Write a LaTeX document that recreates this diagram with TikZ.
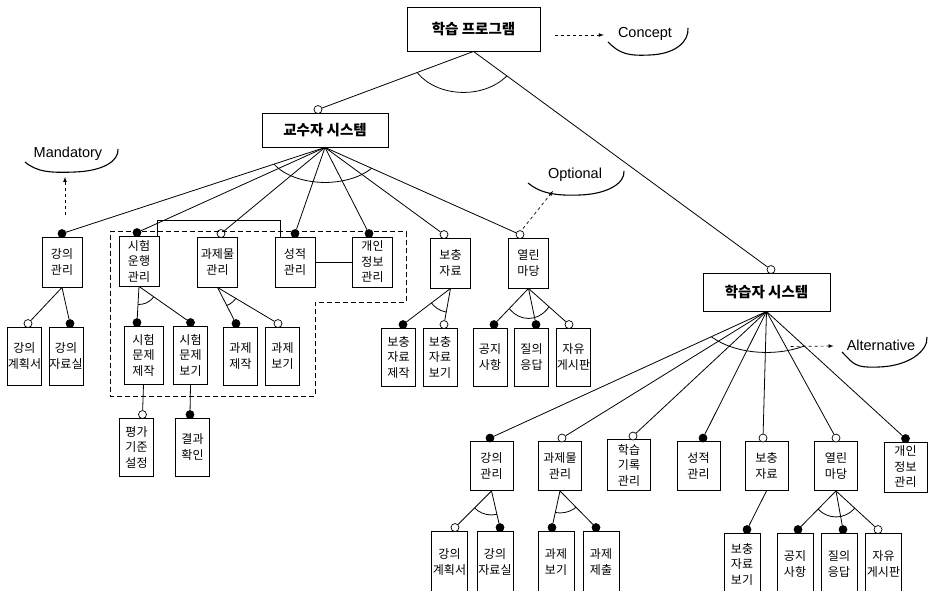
\documentclass[tikz,border=0pt]{standalone}
\usepackage{fontspec}
\setmainfont{Noto Sans CJK KR}
\newfontfamily\latinfont{Liberation Sans}
\usepackage{tikz}
\usetikzlibrary{calc}

\begin{document}
\begin{tikzpicture}[x=1pt, y=-1pt,
    featbox/.style={draw, line width=0.9pt, align=center, inner sep=0pt, font=\fontsize{12}{15.5}\selectfont},
    featitem/.style={featbox, minimum width=40pt, minimum height=50pt},
    featleaf/.style={featbox, minimum width=34pt, minimum height=58pt},
    studleaf/.style={featbox, minimum width=36pt, minimum height=62pt},
    rootbox/.style={draw, line width=0.9pt, font=\fontsize{14.5}{16}\selectfont\bfseries},
    mandc/.style={circle, draw, fill=black, inner sep=0pt, minimum size=8pt, line width=0.7pt},
    optc/.style={mandc, fill=white},
    link/.style={line width=0.8pt},
    legend/.style={font=\latinfont\fontsize{14.5}{16}\selectfont, inner sep=0pt},
    swoosh/.style={line width=1.1pt},
    dasharrow/.style={dashed, line width=0.7pt, -latex}]
                \useasboundingbox (0,0) rectangle (930,591);

                % top level
                \node[rootbox, minimum width=133pt, minimum height=44pt] (prog) at (473.5,29) {학습 프로그램};
                \node[rootbox, minimum width=126pt, minimum height=34pt] (prof) at (325,130) {교수자 시스템};
                \node[rootbox, minimum width=127pt, minimum height=38pt] (stud) at (766.5,292) {학습자 시스템};

                % professor side
                \node[featitem] (p1) at (62,262) {강의\\관리};
                \node[featitem] (p2) at (139,261) {시험\\운행\\관리};
                \node[featitem] (p3) at (217.5,262) {과제물\\관리};
                \node[featitem] (p4) at (295,262) {성적\\관리};
                \node[featitem] (p5) at (372.5,262) {개인\\정보\\관리};
                \node[featitem] (p6) at (450.5,263) {보충\\자료};
                \node[featitem] (p7) at (528.5,263) {열린\\마당};

                \node[featleaf] (p11) at (24.5,356) {강의\\계획서};
                \node[featleaf] (p12) at (66,356) {강의\\자료실};
                \node[featleaf, minimum width=39pt] (p21) at (143.5,355) {시험\\문제\\제작};
                \node[featleaf] (p22) at (190.5,355) {시험\\문제\\보기};
                \node[featleaf] (p31) at (240.5,356) {과제\\제작};
                \node[featleaf] (p32) at (282.5,356) {과제\\보기};
                \node[featleaf] (p61) at (398.5,357) {보충\\자료\\제작};
                \node[featleaf] (p62) at (440,357) {보충\\자료\\보기};
                \node[featleaf] (p71) at (490,357) {공지\\사항};
                \node[featleaf] (p72) at (531.5,357) {질의\\응답};
                \node[featleaf] (p73) at (573.5,357) {자유\\게시판};
                \node[featleaf] (p211) at (136.5,447) {평가\\기준\\설정};
                \node[featleaf] (p221) at (192.5,447) {결과\\확인};

                % student side
                \node[featitem, minimum width=43pt, minimum height=49pt] (s1) at (491.5,466) {강의\\관리};
                \node[featitem, minimum width=43pt, minimum height=49pt] (s2) at (560,466) {과제물\\관리};
                \node[featitem, minimum width=43pt, minimum height=51pt] (s3) at (629,465) {학습\\기록\\관리};
                \node[featitem, minimum width=43pt, minimum height=49pt] (s4) at (698.5,466) {성적\\관리};
                \node[featitem, minimum width=43pt, minimum height=49pt] (s5) at (766.5,466) {보충\\자료};
                \node[featitem, minimum width=43pt, minimum height=49pt] (s6) at (836,466) {열린\\마당};
                \node[featitem, minimum width=43pt, minimum height=50pt] (s7) at (905.5,467) {개인\\정보\\관리};

                \node[studleaf] (s11) at (449.5,562) {강의\\계획서};
                \node[studleaf] (s12) at (495,562) {강의\\자료실};
                \node[studleaf] (s21) at (556,562) {과제\\보기};
                \node[studleaf] (s22) at (601,562) {과제\\제출};
                \node[studleaf] (s51) at (742,564) {보충\\자료\\보기};
                \node[studleaf] (s61) at (795,564) {공지\\사항};
                \node[studleaf] (s62) at (839,564) {질의\\응답};
                \node[studleaf] (s63) at (883.5,564) {자유\\게시판};

                % mandatory / optional marks
                \node[optc] (profc) at ($(prof.north)+(-7,-3)$) {};
                \node[optc] (studc) at ($(stud.north)+(4.5,-3)$) {};
                \node[mandc] (p1c) at ($(p1.north)+(0,-3)$) {};
                \node[mandc] (p2c) at ($(p2.north)+(-2,-3)$) {};
                \node[optc] (p3c) at ($(p3.north)+(3.5,-3)$) {};
                \node[mandc] (p4c) at ($(p4.north)+(0,-3)$) {};
                \node[mandc] (p5c) at ($(p5.north)+(-3.5,-3)$) {};
                \node[optc] (p6c) at ($(p6.north)+(-6.5,-3)$) {};
                \node[optc] (p7c) at ($(p7.north)+(-8.5,-3)$) {};
                \node[optc] (p11c) at ($(p11.north)+(3.5,-3)$) {};
                \node[mandc] (p12c) at ($(p12.north)+(4,-3)$) {};
                \node[mandc] (p21c) at ($(p21.north)+(-6.5,-3)$) {};
                \node[mandc] (p22c) at ($(p22.north)+(0,-3)$) {};
                \node[mandc] (p31c) at ($(p31.north)+(-4.5,-3)$) {};
                \node[optc] (p32c) at ($(p32.north)+(-4.5,-3)$) {};
                \node[mandc] (p61c) at ($(p61.north)+(4.5,-3)$) {};
                \node[optc] (p62c) at ($(p62.north)+(4,-3)$) {};
                \node[mandc] (p71c) at ($(p71.north)+(4,-3)$) {};
                \node[mandc] (p72c) at ($(p72.north)+(4.5,-3)$) {};
                \node[optc] (p73c) at ($(p73.north)+(-4.5,-3)$) {};
                \node[optc] (p211c) at ($(p211.north)+(6,-3)$) {};
                \node[mandc] (p221c) at ($(p221.north)+(-2.5,-3)$) {};
                \node[mandc] (s1c) at ($(s1.north)+(-1.5,-3)$) {};
                \node[optc] (s2c) at ($(s2.north)+(2,-3)$) {};
                \node[optc] (s3c) at ($(s3.north)+(4,-3)$) {};
                \node[mandc] (s4c) at ($(s4.north)+(4.5,-3)$) {};
                \node[optc] (s5c) at ($(s5.north)+(-3.5,-3)$) {};
                \node[optc] (s6c) at ($(s6.north)+(0,-3)$) {};
                \node[mandc] (s7c) at ($(s7.north)+(0,-3)$) {};
                \node[optc] (s11c) at ($(s11.north)+(5.5,-3)$) {};
                \node[mandc] (s12c) at ($(s12.north)+(5,-3)$) {};
                \node[mandc] (s21c) at ($(s21.north)+(-4,-3)$) {};
                \node[mandc] (s22c) at ($(s22.north)+(-5,-3)$) {};
                \node[mandc] (s51c) at ($(s51.north)+(5,-3)$) {};
                \node[mandc] (s61c) at ($(s61.north)+(3,-3)$) {};
                \node[mandc] (s62c) at ($(s62.north)+(4,-3)$) {};
                \node[optc] (s63c) at ($(s63.north)+(-5.5,-3)$) {};

                % connectors
                \draw[link] (prog.south) -- (profc);
                \draw[link] (prog.south) -- (studc);

                \draw[link] (prof.south) -- (p1c);
                \draw[link] (prof.south) -- (p2c);
                \draw[link] (prof.south) -- (p3c);
                \draw[link] (prof.south) -- (p4c);
                \draw[link] (prof.south) -- (p5c);
                \draw[link] (prof.south) -- (p6c);
                \draw[link] (prof.south) -- (p7c);

                \draw[link] (p1.south) -- (p11c);
                \draw[link] (p1.south) -- (p12c);
                \draw[link] (p2.south) -- (p21c);
                \draw[link] (p2.south) -- (p22c);
                \draw[link] (p3.south) -- (p31c);
                \draw[link] (p3.south) -- (p32c);
                \draw[link] (p6.south) -- (p61c);
                \draw[link] (p6.south) -- (p62c);
                \draw[link] (p7.south) -- (p71c);
                \draw[link] (p7.south) -- (p72c);
                \draw[link] (p7.south) -- (p73c);
                \draw[link] (p21.south) -- (p211c);
                \draw[link] (p22.south) -- (p221c);

                \draw[link] ($(p2.north east)+(-2,0)$) -- ++(0,-15) -| ($(p4.north west)+(6,0)$);
                \draw[link] (p4.east) -- (p5.west);

                \draw[link] (stud.south) -- (s1c);
                \draw[link] (stud.south) -- (s2c);
                \draw[link] (stud.south) -- (s3c);
                \draw[link] (stud.south) -- (s4c);
                \draw[link] (stud.south) -- (s5c);
                \draw[link] (stud.south) -- (s6c);
                \draw[link] (stud.south) -- (s7c);

                \draw[link] (s1.south) -- (s11c);
                \draw[link] (s1.south) -- (s12c);
                \draw[link] (s2.south) -- (s21c);
                \draw[link] (s2.south) -- (s22c);
                \draw[link] (s5.south) -- (s51c);
                \draw[link] (s6.south) -- (s61c);
                \draw[link] (s6.south) -- (s62c);
                \draw[link] (s6.south) -- (s63c);

                % group arcs
                \begin{scope}
                    \clip (prog.south) -- ($(prog.south)!5!(profc)$) -- ($(prog.south)!5!(studc)$) -- cycle;
                    \draw[link] ([xshift=-10pt]prog.south) ellipse [x radius=54pt, y radius=41pt];
                \end{scope}
                \begin{scope}
                    \clip (prof.south) -- ($(prof.south)!5!(p1c)$) -- ($(prof.south)!5!(p7c)$) -- cycle;
                    \draw[link] (prof.south) ellipse [x radius=58pt, y radius=35pt];
                \end{scope}
                \begin{scope}
                    \clip (p2.south) -- ($(p2.south)!5!(p21c)$) -- ($(p2.south)!5!(p22c)$) -- cycle;
                    \draw[link] (p2.south) ellipse [x radius=18pt, y radius=18pt];
                \end{scope}
                \begin{scope}
                    \clip (p3.south) -- ($(p3.south)!5!(p31c)$) -- ($(p3.south)!5!(p32c)$) -- cycle;
                    \draw[link] (p3.south) ellipse [x radius=22pt, y radius=20pt];
                \end{scope}
                \begin{scope}
                    \clip (p6.south) -- ($(p6.south)!5!(p61c)$) -- ($(p6.south)!5!(p62c)$) -- cycle;
                    \draw[link] (p6.south) ellipse [x radius=24pt, y radius=24pt];
                \end{scope}
                \begin{scope}
                    \clip (p7.south) -- ($(p7.south)!5!(p71c)$) -- ($(p7.south)!5!(p73c)$) -- cycle;
                    \draw[link] (p7.south) ellipse [x radius=26pt, y radius=30pt];
                \end{scope}
                \begin{scope}
                    \clip (stud.south) -- ($(stud.south)!5!(s1c)$) -- ($(stud.south)!5!(s7c)$) -- cycle;
                    \draw[link] (stud.south) ellipse [x radius=70pt, y radius=41pt];
                \end{scope}
                \begin{scope}
                    \clip (s1.south) -- ($(s1.south)!5!(s11c)$) -- ($(s1.south)!5!(s12c)$) -- cycle;
                    \draw[link] (s1.south) ellipse [x radius=24pt, y radius=24pt];
                \end{scope}
                \begin{scope}
                    \clip (s2.south) -- ($(s2.south)!5!(s21c)$) -- ($(s2.south)!5!(s22c)$) -- cycle;
                    \draw[link] (s2.south) ellipse [x radius=24pt, y radius=22pt];
                \end{scope}
                \begin{scope}
                    \clip (s6.south) -- ($(s6.south)!5!(s61c)$) -- ($(s6.south)!5!(s63c)$) -- cycle;
                    \draw[link] (s6.south) ellipse [x radius=25pt, y radius=26pt];
                \end{scope}

                % dashed group
                \draw[line width=1pt, dash pattern=on 5pt off 3pt] (110,232) -- (406,232) -- (406,302) -- (315,302) -- (315,396) -- (110,396) -- cycle;

                % legend
                \node[legend] (concept) at (645,34) {Concept};
                \node[legend] (mand) at (68,154) {Mandatory};
                \node[legend] (optl) at (575,175) {Optional};
                \node[legend] (alt) at (881,345) {Alternative};

                \draw[swoosh] ($(concept)+(-37,8)$) .. controls +(12,12) and +(-22,1) .. ($(concept)+(5,21)$) .. controls +(25,-1) and +(1,14) .. ($(concept)+(43,-6)$);
                \draw[swoosh] ($(mand)+(-43,8)$) .. controls +(12,10) and +(-25,1) .. ($(mand)+(7,18)$) .. controls +(28,-1) and +(1,12) .. ($(mand)+(50,-5)$);
                \draw[swoosh] ($(optl)+(-47,8)$) .. controls +(12,10) and +(-25,1) .. ($(optl)+(5,20)$) .. controls +(28,-1) and +(1,12) .. ($(optl)+(49,-4)$);
                \draw[swoosh] ($(alt)+(-39,7)$) .. controls +(12,12) and +(-25,1) .. ($(alt)+(-2,22)$) .. controls +(30,-1) and +(1,14) .. ($(alt)+(46,-8)$);

                \draw[dasharrow] ($(prog.east |- concept.west)+(15,1)$) -- ($(concept.west)+(-14,1)$);
                \draw[dasharrow] ($(p1c)+(3,-19)$) -- ($(mand.south)+(-3,16)$);
                \draw[dasharrow] ($(p7c)+(3,-6)$) -- ($(optl.south)+(-22,9)$);
                \draw[dasharrow] ($(stud.south)+(24,35)$) -- ($(alt.west)+(-13,1)$);
\end{tikzpicture}
\end{document}
